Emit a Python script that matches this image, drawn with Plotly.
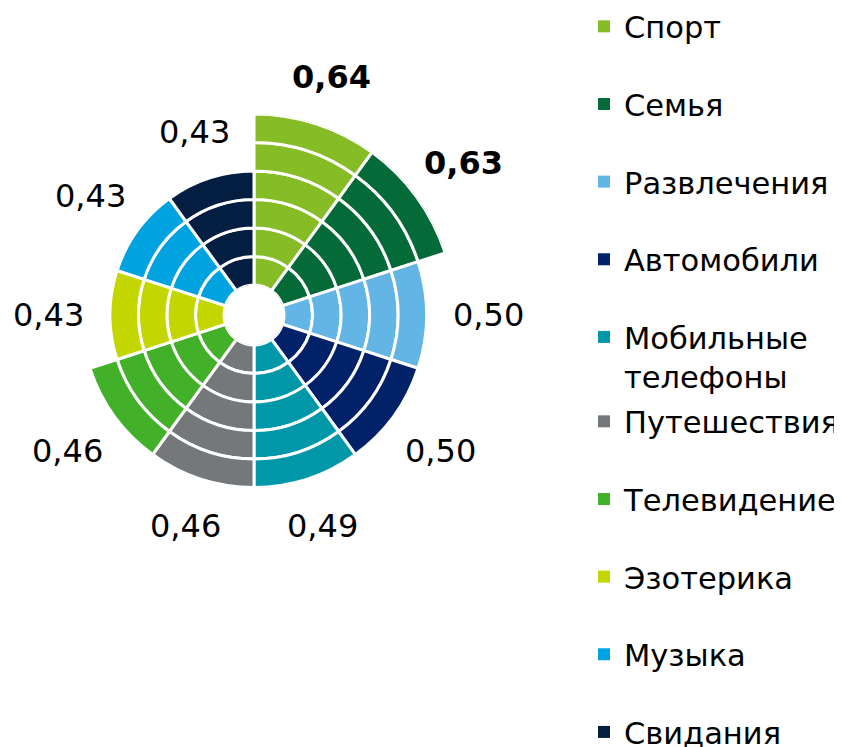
import math
import plotly.graph_objects as go

# ---- data ----
categories = ["Спорт", "Семья", "Развлечения", "Автомобили", "Мобильные телефоны",
              "Путешествия", "Телевидение", "Эзотерика", "Музыка", "Свидания"]
legend_names = ["Спорт", "Семья", "Развлечения", "Автомобили", "Мобильные<br>телефоны",
                "Путешествия", "Телевидение", "Эзотерика", "Музыка", "Свидания"]
values = [0.64, 0.63, 0.50, 0.50, 0.49, 0.46, 0.46, 0.43, 0.43, 0.43]
rings = [6, 6, 5, 5, 5, 5, 5, 4, 4, 4]
highlight = ["Спорт", "Семья"]
colors = ["#86BC25", "#046A38", "#62B5E5", "#012169", "#0097A9",
          "#75787B", "#43B02A", "#C4D600", "#00A3E0", "#041E42"]

FONT = "Verdana, DejaVu Sans, sans-serif"
PAGE_OFF = 8                       # default <body> margin of the html page
W, H = 842 - PAGE_OFF, 747 - PAGE_OFF
cx, cy = 254 - PAGE_OFF, 315 - PAGE_OFF   # polar centre (figure px)
R_out = 201                # outer radius of the longest bar (px)
R_hole = 30
max_ring = max(rings)
ring_px = (R_out - R_hole) / max_ring

fig = go.Figure()
for i, (cat, n) in enumerate(zip(categories, rings)):
    leg = "legend" if i < 5 else "legend2"
    # stacked ring segments of the wedge
    fig.add_trace(go.Barpolar(
        r=[1] * n,
        base=list(range(n)),
        theta=[cat] * n,
        name=legend_names[i],
        legendgroup=cat,
        legend=leg,
        showlegend=False,
        marker=dict(color=colors[i], line=dict(color="white", width=3)),
        hoverinfo="skip",
    ))
    # legend entry (solid square without the white outline)
    fig.add_trace(go.Barpolar(
        r=[0],
        base=[0],
        theta=[cat],
        name=legend_names[i],
        legendgroup=cat,
        legend=leg,
        showlegend=True,
        marker=dict(color=colors[i], line=dict(width=0)),
        hoverinfo="skip",
    ))

# value labels outside each wedge (placed along the wedge's centre angle)
n_cat = len(categories)
annotations = []
for i, (cat, v, n) in enumerate(zip(categories, values, rings)):
    ang = math.radians(360 / n_cat * (i + 0.5))
    r_px = R_hole + n * ring_px + 43 + 19 * abs(math.sin(ang))
    x = cx + r_px * math.sin(ang)
    y = cy - r_px * math.cos(ang)
    s = f"{v:.2f}".replace(".", ",")
    annotations.append(dict(
        x=x / W, y=1 - y / H, xref="paper", yref="paper",
        text=f"<b>{s}</b>" if cat in highlight else s,
        showarrow=False, xanchor="center", yanchor="middle",
        font=dict(family=FONT, size=32, color="black"),
    ))

legend_common = dict(
    xref="paper", yref="paper", x=576 / W, xanchor="left", yanchor="top",
    traceorder="grouped", tracegroupgap=35, valign="top", maxheight=1000,
    font=dict(family=FONT, size=30.5, color="black"),
    bgcolor="rgba(0,0,0,0)",
)

fig.update_layout(
    width=W, height=H,
    margin=dict(l=0, r=0, t=0, b=0, autoexpand=False),
    paper_bgcolor="white",
    font=dict(family=FONT, color="black"),
    annotations=annotations,
    polar=dict(
        domain=dict(x=[(cx - R_out) / W, (cx + R_out) / W],
                    y=[(H - cy - R_out) / H, (H - cy + R_out) / H]),
        hole=R_hole / R_out,
        bgcolor="white",
        barmode="overlay",
        bargap=0,
        radialaxis=dict(range=[0, max_ring], visible=False, showgrid=False),
        angularaxis=dict(visible=False, showgrid=False, direction="clockwise",
                         rotation=90 - 180 / n_cat, type="category",
                         categoryarray=categories, categoryorder="array"),
    ),
    legend=dict(y=1 + 8 / H, **legend_common),
    legend2=dict(y=1 - 387 / H, **legend_common),
)

fig.write_html("out.html")
